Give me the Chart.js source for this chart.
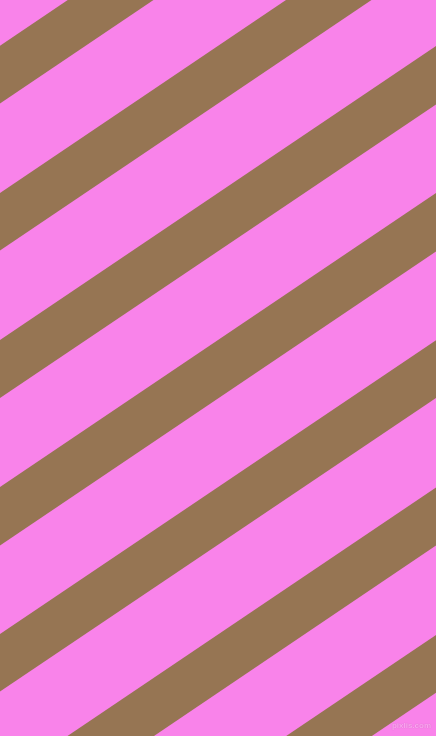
<!DOCTYPE html>
<html>
<head>
<meta charset="utf-8">
<script src="https://cdn.jsdelivr.net/npm/chart.js@4.4.0/dist/chart.umd.min.js"></script>
<style>
  html, body { margin: 0; padding: 0; background: #F983EA; overflow: hidden; }
  #wrap { position: relative; width: 436px; height: 736px; }
  #c { display: block; }
  #mark { position: absolute; right: 5px; top: 721px; font: bold 8px "Liberation Sans", sans-serif;
          color: #FBA6F0; text-shadow: 0 0 1px #C968BB; white-space: nowrap; }
</style>
</head>
<body>
<div id="wrap">
  <canvas id="c" width="436" height="736"></canvas>
  <div id="mark">pixlis.com</div>
</div>
<script>
// Stripe edges: y (in px from top) where each stripe's edges meet the left (x=0) and right (x=436) borders
const xEdges = [0, 436];
const upperAtLeft  = [45.7, 192.9, 340.1, 487.0, 634.0, 781.5, 928.9];
const upperAtRight = [-248.4, -101.2, 46.0, 193.0, 340.2, 487.5, 635.0];
const lowerAtLeft  = [103.5, 250.5, 398.0, 545.5, 691.5, 840.0, 987.0];
const lowerAtRight = [-190.5, -43.5, 104.5, 251.5, 398.0, 545.5, 692.7];

const pink = '#F983EA';
const brown = '#967553';

const datasets = [];
for (let i = 0; i < upperAtLeft.length; i++) {
  datasets.push({
    data: [{x: xEdges[0], y: upperAtLeft[i]}, {x: xEdges[1], y: upperAtRight[i]}],
    borderWidth: 0, pointRadius: 0, fill: false, borderColor: brown
  });
  datasets.push({
    data: [{x: xEdges[0], y: lowerAtLeft[i]}, {x: xEdges[1], y: lowerAtRight[i]}],
    borderWidth: 0, pointRadius: 0, fill: '-1', backgroundColor: brown, borderColor: brown
  });
}

new Chart(document.getElementById('c'), {
  type: 'line',
  data: { datasets },
  options: {
    responsive: false,
    animation: false,
    devicePixelRatio: 1,
    layout: { padding: 0 },
    plugins: { legend: { display: false }, tooltip: { enabled: false } },
    elements: { line: { tension: 0 } },
    scales: {
      x: { type: 'linear', min: 0, max: 436, display: false },
      y: { type: 'linear', min: 0, max: 736, reverse: true, display: false }
    }
  }
});
</script>
</body>
</html>
